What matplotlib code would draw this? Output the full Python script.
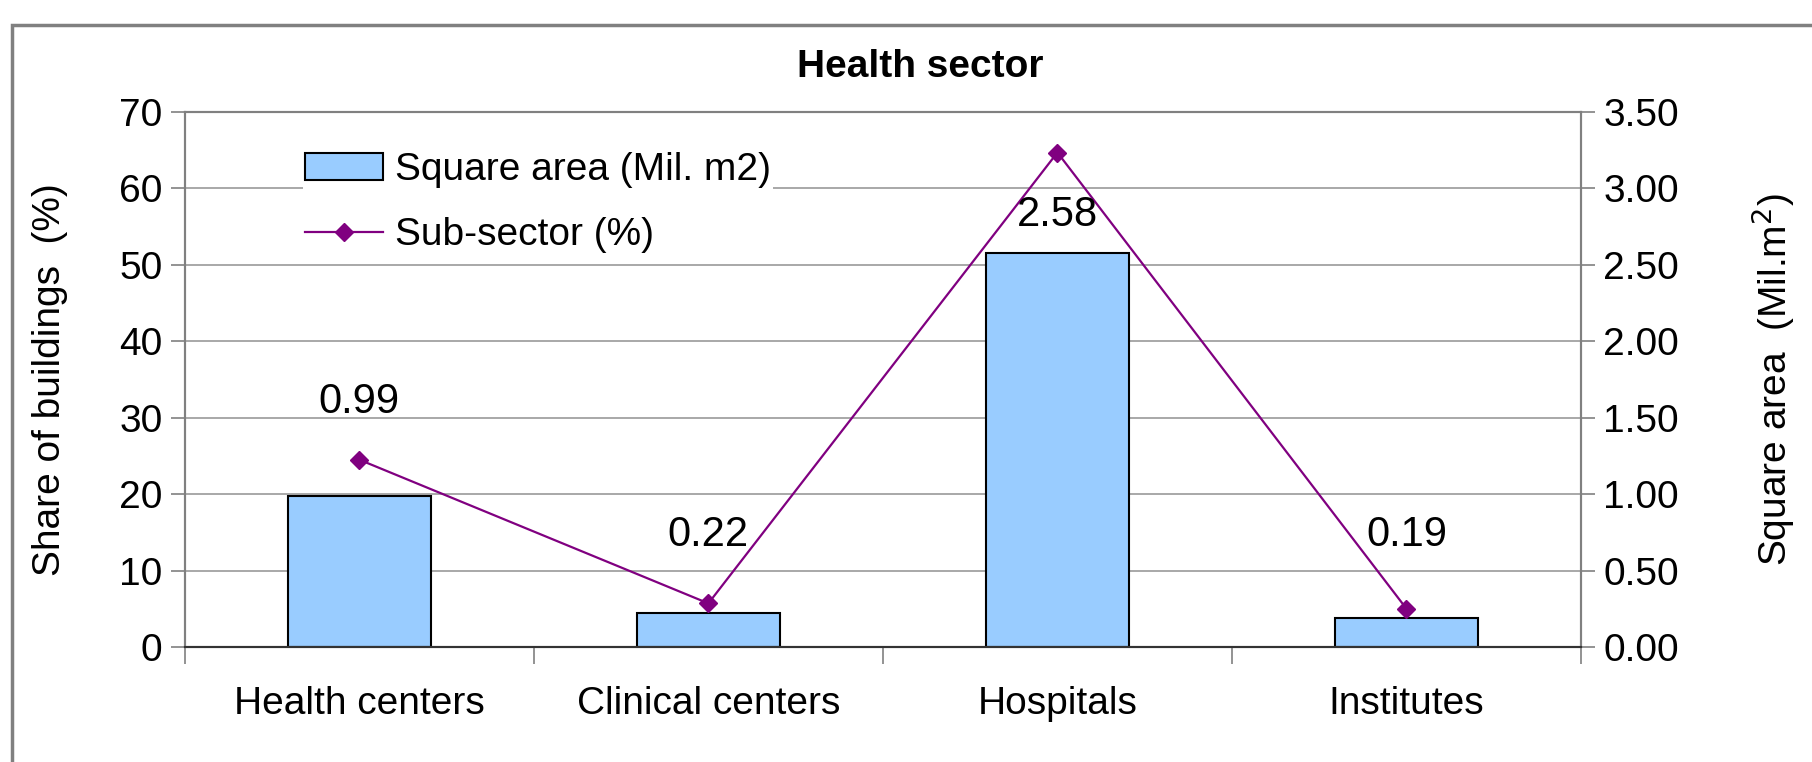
import matplotlib.pyplot as plt
from matplotlib.patches import Rectangle

categories = ['Health centers', 'Clinical centers', 'Hospitals', 'Institutes']
square_area = [0.99, 0.22, 2.58, 0.19]      # Mil. m2, right axis
sub_sector = [24.5, 5.7, 64.7, 5.0]         # % share, left axis
label_text = ['0.99', '0.22', '2.58', '0.19']
label_y = [32.0, 14.6, 56.5, 14.6]          # where the value labels sit (left axis units)

plt.rcParams['font.family'] = ['Liberation Sans', 'DejaVu Sans']

fig = plt.figure(figsize=(18.12, 7.62), dpi=100)
ax = fig.add_axes([0.102, 0.151, 0.7705, 0.702])
ax2 = ax.twinx()

x = list(range(len(categories)))

# bars on right axis, line on left axis; bars must be under the line
ax.set_zorder(ax2.get_zorder() + 1)
ax.patch.set_visible(False)

bars = ax2.bar(x, square_area, width=0.41, color='#99CCFF', edgecolor='black',
               linewidth=1.5, label='Square area (Mil. m2)', zorder=2)
line, = ax.plot(x, sub_sector, color='#800080', marker='D', markersize=9,
                linewidth=1.6, label='Sub-sector (%)')

for xi, yy, t in zip(x, label_y, label_text):
    ax.text(xi, yy, t, ha='center', va='center', fontsize=30)

ax.set_xlim(-0.5, 3.5)
ax.set_ylim(0, 70)
ax.set_yticks(range(0, 71, 10))
ax2.set_ylim(0, 3.5)
ax2.set_yticks([i * 0.5 for i in range(8)])
ax2.set_yticklabels(['%.2f' % (i * 0.5) for i in range(8)])

# gridlines drawn on the bar axis so they sit behind the bars
ax2.grid(axis='y', color='#999999', linewidth=1.2, zorder=0)
ax2.set_axisbelow(True)

ax.set_xticks(x)
ax.set_xticklabels(categories, fontsize=28)
ax.set_xticks([-0.5, 0.5, 1.5, 2.5, 3.5], minor=True)
ax.tick_params(axis='x', which='major', length=0, pad=28)
ax.tick_params(axis='x', which='minor', length=12, color='#808080', width=1.2)
ax.tick_params(axis='y', length=10, color='#808080', width=1.2, labelsize=28, pad=6)
ax2.tick_params(axis='y', length=10, color='#808080', width=1.2, labelsize=28, pad=6)

for a in (ax, ax2):
    for s in ('left', 'right', 'top'):
        a.spines[s].set_color('#808080')
        a.spines[s].set_linewidth(1.5)
    a.spines['bottom'].set_color('#333333')
    a.spines['bottom'].set_linewidth(1.5)

ax.set_ylabel('Share of buildings  (%)', fontsize=28, labelpad=37)
ax2.set_ylabel('Square area  (Mil.m$^2$)', fontsize=28, labelpad=51)

fig.text(0.508, 0.912, 'Health sector', ha='center', va='center', fontsize=28,
         fontweight='bold')

leg = ax.legend([bars, line], ['Square area (Mil. m2)', 'Sub-sector (%)'],
                loc='upper left', bbox_to_anchor=(0.071, 0.965),
                frameon=True, facecolor='white', edgecolor='none', framealpha=1,
                handlelength=2.0, handletextpad=0.3, labelspacing=0.75,
                borderpad=0.05, prop={'size': 28})

# outer chart frame
fig.patches.append(Rectangle((12 / 1812, -0.05), 1.2, 0.967 + 0.05, transform=fig.transFigure,
                             fill=False, edgecolor='#808080', linewidth=2.5))

fig.savefig('out.png', dpi=100)
